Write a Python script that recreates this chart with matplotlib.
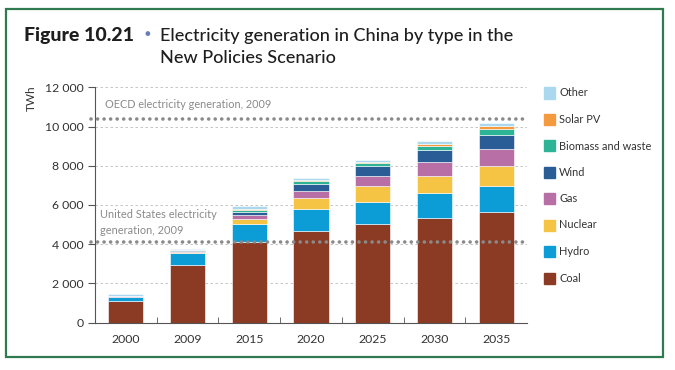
import matplotlib
matplotlib.use("Agg")
import matplotlib.pyplot as plt
from matplotlib.patches import Rectangle
import numpy as np

years = ["2000", "2009", "2015", "2020", "2025", "2030", "2035"]
coal    = [1080, 2913, 4100, 4690, 5020, 5330, 5650]
hydro   = [220, 616, 940, 1090, 1150, 1270, 1290]
nuclear = [17, 70, 240, 560, 770, 880, 1020]
gas     = [40, 62, 220, 390, 510, 700, 890]
wind    = [1, 27, 160, 360, 560, 620, 710]
biomass = [3, 24, 90, 130, 150, 230, 320]
solar   = [0, 1, 20, 40, 50, 80, 170]
other   = [80, 30, 150, 100, 90, 160, 120]
oecd_2009 = 10380
us_2009 = 4120

series = [("Coal", coal, "#8B3B24"), ("Hydro", hydro, "#0C9CD6"),
          ("Nuclear", nuclear, "#F5C445"), ("Gas", gas, "#B76FA5"),
          ("Wind", wind, "#2A5C95"), ("Biomass and waste", biomass, "#2DB396"),
          ("Solar PV", solar, "#F49B3F"), ("Other", other, "#A9D8EF")]

W, H = 675, 370
plt.rcParams['font.family'] = ['Lato', 'DejaVu Sans']
fig = plt.figure(figsize=(W/100, H/100), dpi=100)

def fx(px): return px / W
def fy(py): return 1 - py / H

# green border
fig.patches.append(Rectangle((fx(6), fy(357)), fx(663) - fx(6), fy(9) - fy(357),
                             transform=fig.transFigure, fill=False,
                             edgecolor="#2F7A4E", linewidth=1.6))

# title
fig.text(fx(24), fy(36), "Figure 10.21", fontsize=14, fontweight="black",
         color="#1E1E1E", va="center", ha="left")
fig.text(fx(147), fy(35), "\u25CF", fontsize=7, color="#6A7DB5", va="center", ha="center")
fig.text(fx(160), fy(36), "Electricity generation in China by type in the",
         fontsize=13, fontweight="medium", color="#1E1E1E", va="center", ha="left")
fig.text(fx(160), fy(58), "New Policies Scenario",
         fontsize=13, fontweight="medium", color="#1E1E1E", va="center", ha="left")

ax = fig.add_axes([fx(95), fy(322.5), fx(527) - fx(95), fy(87.3) - fy(322.5)])
x = np.arange(len(years))
bottom = np.zeros(len(years))
for name, vals, col in series:
    v = np.array(vals, dtype=float)
    ax.bar(x, v, bottom=bottom, width=0.57, color=col, edgecolor="white",
           linewidth=0.4, label=name, zorder=3)
    bottom += v

ax.set_xlim(-0.5, len(years) - 0.5)
ax.set_ylim(0, 12000)
yt = np.arange(0, 12001, 2000)
ax.set_yticks(yt)
ax.set_yticklabels([f"{int(t):,}".replace(",", " ") for t in yt],
                   fontsize=8.8, color="#333333")
ax.set_xticks(x)
ax.set_xticklabels(years, fontsize=8.8, color="#333333")
ax.set_xticks(np.arange(0.5, len(years) - 0.5, 1), minor=True)
ax.tick_params(axis="x", which="major", length=0, pad=8)
ax.tick_params(axis="x", which="minor", length=4, direction="in", color="#555555")
ax.tick_params(axis="y", length=5, direction="out", color="#555555", pad=3)
for s in ["top", "right"]:
    ax.spines[s].set_visible(False)
ax.spines["left"].set_color("#555555")
ax.spines["bottom"].set_color("#555555")
ax.yaxis.grid(True, linestyle=(0, (3, 3)), color="#BBBBBB", linewidth=0.6, zorder=0)
ax.set_axisbelow(True)

for val in (oecd_2009, us_2009):
    ax.axhline(val, color="#8A8A8A", linewidth=2.6, linestyle=(0, (0.01, 1.8)),
               dash_capstyle="round", zorder=4, xmin=-0.01, xmax=0.99, clip_on=False)

fig.text(fx(105), fy(104), "OECD electricity generation, 2009", fontsize=7.8,
         color="#8A8A8A", va="center", ha="left")
fig.text(fx(100), fy(214), "United States electricity", fontsize=7.9,
         color="#8A8A8A", va="center", ha="left")
fig.text(fx(100), fy(231), "generation, 2009", fontsize=7.9,
         color="#8A8A8A", va="center", ha="left")

fig.text(fx(31), fy(98), "TWh", fontsize=8.5, color="#333333", rotation=90,
         va="center", ha="center")

# legend (manual)
leg_y = [93, 119.5, 146, 172, 198.5, 225, 251.5, 278]
for (name, vals, col), ly in zip(reversed(series), leg_y):
    fig.patches.append(Rectangle((fx(544), fy(ly + 5.5)), fx(11), fy(0) - fy(11),
                                 transform=fig.transFigure, color=col))
    fig.text(fx(559), fy(ly), name, fontsize=7.9, color="#333333", va="center",
             ha="left")

fig.savefig("out.png", dpi=100)
